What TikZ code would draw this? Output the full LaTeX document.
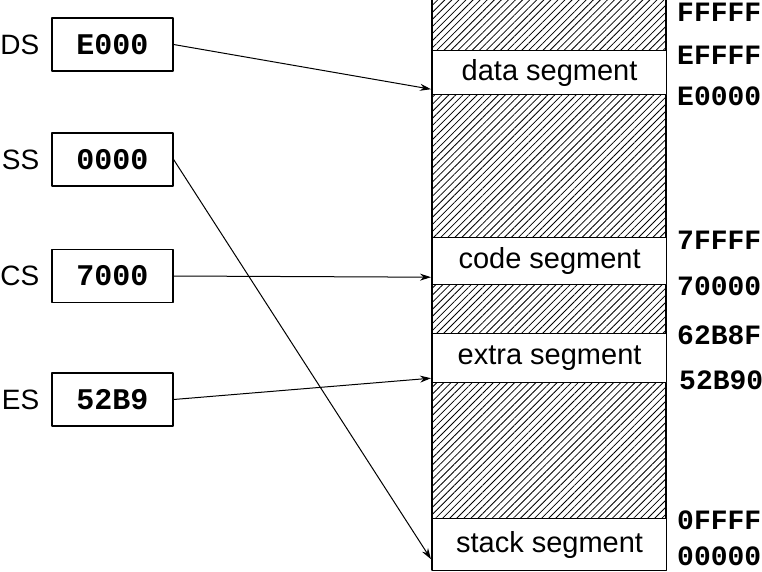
\documentclass[tikz,border=0pt]{standalone}
\usepackage{fontspec}
\setmainfont{Liberation Sans}
\newfontfamily\hexfont{Liberation Mono}
\usetikzlibrary{positioning}
\usetikzlibrary{calc}
\usetikzlibrary{arrows.meta}
\usetikzlibrary{patterns.meta}

\begin{document}
\begin{tikzpicture}[x=1pt,y=-1pt,line cap=round,line join=round,
  reg/.style={draw,line width=1.2pt,minimum width=121pt,minimum height=53pt,inner sep=0pt,font=\hexfont\bfseries\fontsize{30}{32}\selectfont},
  regname/.style={inner sep=0pt,font=\fontsize{28}{30}\selectfont},
  seg/.style={draw,fill=white,line width=1.2pt,minimum width=234pt,inner sep=0pt,font=\fontsize{29}{31}\selectfont},
  addr/.style={anchor=west,inner sep=0pt,font=\hexfont\bfseries\fontsize{28}{30}\selectfont},
  ptr/.style={line width=1pt,-{Stealth[length=11pt,width=7pt]}},
  hatch/.style={pattern={Lines[angle=45,distance=5pt,line width=0.8pt]}}]
\useasboundingbox (0,0) rectangle (762,572);
% memory column
\draw [hatch,line width=1.2pt] (432,-2) rectangle (666,570);
\node [seg,minimum height=44pt,anchor=north west] (dataseg) at (432,50) {data segment};
\node [seg,minimum height=47pt,anchor=north west] (codeseg) at (432,237) {code segment};
\node [seg,minimum height=49pt,anchor=north west] (extraseg) at (432,333) {extra segment};
\node [seg,minimum height=52pt,anchor=north west] (stackseg) at (432,518) {stack segment};
% addresses
\node [addr] (a1) at (677,12) {FFFFF};
\node [addr] (a2) at (677,55) {EFFFF};
\node [addr] (a3) at (677,96) {E0000};
\node [addr] (a4) at (677,240) {7FFFF};
\node [addr] (a5) at (677,286) {70000};
\node [addr] (a6) at (677,335) {62B8F};
\node [addr] (a7) at (679,380) {52B90};
\node [addr] (a8) at (677,520) {0FFFF};
\node [addr] (a9) at (677,556) {00000};
% segment registers
\node [reg] (ds) at (112.5,44.5) {E000};
\node [reg] (ss) at (112.5,159.5) {0000};
\node [reg] (cs) at (112.5,276) {7000};
\node [reg] (es) at (112.5,399.5) {52B9};
\node [regname,left=12pt of ds] (dsname) {DS};
\node [regname,left=12pt of ss] (ssname) {SS};
\node [regname,left=12pt of cs] (csname) {CS};
\node [regname,left=12pt of es] (esname) {ES};
% pointers
\draw [ptr] (ds.east) -- ($(dataseg.south west)+(-1,-6)$);
\draw [ptr] (ss.east) -- ($(stackseg.south west)+(-1,-12)$);
\draw [ptr] (cs.east) -- ($(codeseg.south west)+(-1,-8)$);
\draw [ptr] (es.east) -- ($(extraseg.south west)+(-1,-5)$);
\end{tikzpicture}
\end{document}
